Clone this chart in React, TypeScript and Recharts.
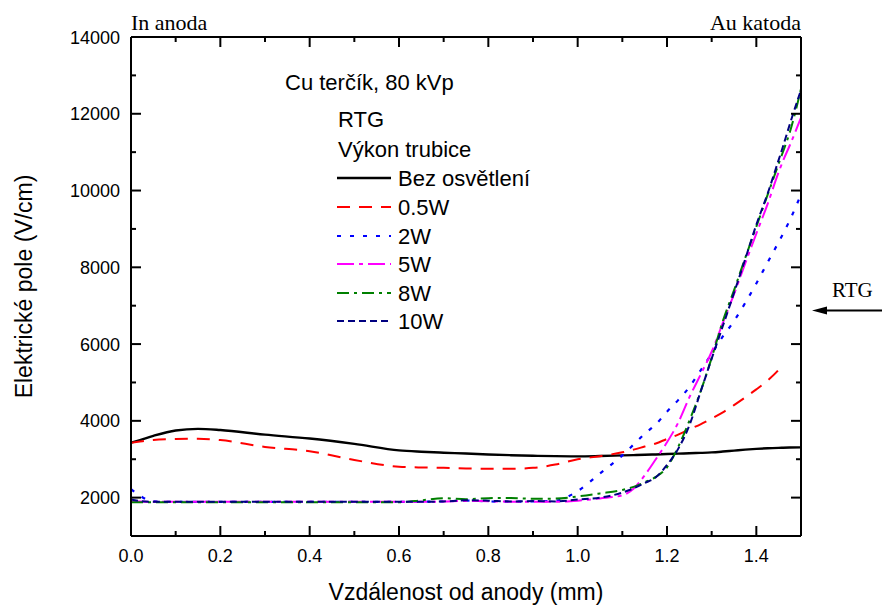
import React from "react";
import { LineChart, Line, XAxis, YAxis } from "recharts";

const xs = [
  0, 0.02, 0.05, 0.1, 0.15, 0.2, 0.3, 0.4, 0.5, 0.6, 0.65, 0.7, 0.75, 0.8, 0.85,
  0.9, 0.95, 1.0, 1.05, 1.1, 1.125, 1.15, 1.175, 1.2, 1.225, 1.25, 1.275, 1.3,
  1.325, 1.35, 1.375, 1.4, 1.425, 1.45, 1.46, 1.475, 1.5,
];

const bezOsvetleni = [
  3430, 3500, 3610, 3750, 3790, 3760, 3640, 3540, 3400, 3230, 3195, 3170, 3150,
  3125, 3105, 3090, 3080, 3075, 3085, 3100, 3108, 3115, 3125, 3135, 3145, 3155,
  3165, 3178, 3200, 3225, 3250, 3270, 3285, 3295, 3300, 3305, 3310,
];
const w05 = [
  3430, 3460, 3500, 3525, 3535, 3500, 3320, 3210, 2980, 2805, 2785, 2775, 2760,
  2750, 2752, 2775, 2860, 3000, 3080, 3180, 3250, 3330, 3410, 3530, 3640, 3780,
  3910, 4060, 4220, 4410, 4610, 4820, 5050, 5330, 5480, null, null,
];
const w2 = [
  2220, 2050, 1900, 1890, 1890, 1890, 1890, 1890, 1890, 1890, 1895, 1900, 1925,
  1900, 1895, 1900, 1920, 2170, 2630, 3100, 3380, 3660, 3910, 4240, 4540, 4880,
  5310, 5750, 6200, 6600, 7070, 7580, 8120, 8660, 8880, 9230, 9900,
];
const w5 = [
  1920, 1900, 1890, 1890, 1890, 1890, 1890, 1890, 1890, 1890, 1890, 1900, 1915,
  1905, 1895, 1890, 1890, 1920, 1980, 2060, 2230, 2580, 3000, 3440, 3950, 4610,
  5200, 5800, 6550, 7300, 8100, 8880, 9640, 10480, 10780, 11180, 11900,
];
const w8 = [
  1880, 1880, 1880, 1880, 1880, 1880, 1880, 1880, 1880, 1880, 1930, 1985, 1960,
  1985, 1990, 1970, 1975, 2030, 2110, 2200, 2280, 2400, 2540, 2790, 3320, 4000,
  4760, 5640, 6600, 7400, 8240, 9060, 9880, 10700, 11020, 11520, 12650,
];
const w10 = [
  1950, 1910, 1890, 1890, 1890, 1890, 1890, 1890, 1890, 1890, 1890, 1900, 1930,
  1920, 1900, 1910, 1900, 1950, 2000, 2130, 2240, 2380, 2530, 2850, 3270, 3880,
  4750, 5620, 6470, 7330, 8210, 9110, 9910, 10800, 11160, 11730, 12620,
];

const xTicks = [0, 0.1, 0.2, 0.3, 0.4, 0.5, 0.6, 0.7, 0.8, 0.9, 1.0, 1.1, 1.2, 1.3, 1.4, 1.5];
const yTicks = [1000, 2000, 3000, 4000, 5000, 6000, 7000, 8000, 9000, 10000, 11000, 12000, 13000, 14000];

const series = [
  { key: "bez", name: "Bez osvětlení", values: bezOsvetleni, color: "#000000", dash: undefined, width: 2.4 },
  { key: "w05", name: "0.5W", values: w05, color: "#ff0000", dash: "13 9", width: 2 },
  { key: "w2", name: "2W", values: w2, color: "#0000ff", dash: "4 9", width: 2.2 },
  { key: "w5", name: "5W", values: w5, color: "#ff00ff", dash: "17 5 4 5", width: 2 },
  { key: "w8", name: "8W", values: w8, color: "#008000", dash: "12 5 3 5", width: 2 },
  { key: "w10", name: "10W", values: w10, color: "#000080", dash: "7 4", width: 2 },
];

const data = xs.map((x, i) => {
  const row: any = { x };
  series.forEach((s) => (row[s.key] = s.values[i]));
  return row;
});

const SANS = "'Liberation Sans', Arial, sans-serif";
const SERIF = "'Liberation Serif', 'Times New Roman', serif";

const isMajorX = (v: number) => Math.round(v * 10) % 2 === 0;
const isMajorY = (v: number) => v % 2000 === 0;

const BottomTick = ({ x, y, payload }: any) => {
  const major = isMajorX(payload.value);
  return (
    <g>
      <line x1={x} x2={x} y1={y} y2={y - (major ? 10 : 5)} stroke="#000" strokeWidth={2} />
      {major && (
        <text x={x} y={y + 26} textAnchor="middle" fontSize={18} fontFamily={SANS} fill="#000">
          {payload.value.toFixed(1)}
        </text>
      )}
    </g>
  );
};

const TopTick = ({ x, y, payload }: any) => {
  const major = isMajorX(payload.value);
  return <line x1={x} x2={x} y1={y} y2={y + (major ? 10 : 5)} stroke="#000" strokeWidth={2} />;
};

const LeftTick = ({ x, y, payload }: any) => {
  const major = isMajorY(payload.value);
  return (
    <g>
      <line x1={x} x2={x + (major ? 10 : 5)} y1={y} y2={y} stroke="#000" strokeWidth={2} />
      {major && (
        <text x={x - 11} y={y + 6.5} textAnchor="end" fontSize={18} fontFamily={SANS} fill="#000">
          {payload.value}
        </text>
      )}
    </g>
  );
};

const RightTick = ({ x, y, payload }: any) => {
  const major = isMajorY(payload.value);
  return <line x1={x} x2={x - (major ? 10 : 5)} y1={y} y2={y} stroke="#000" strokeWidth={2} />;
};

const legendBaselines = [186, 215, 244, 272, 301, 329];

export default function App() {
  return (
    <div style={{ position: "absolute", left: 0, top: 0, width: 882, height: 606, background: "#fff" }}>
      <LineChart width={882} height={606} data={data} margin={{ top: 0, right: 0, bottom: 0, left: 0 }}>
        <XAxis
          xAxisId="bottom"
          dataKey="x"
          type="number"
          domain={[0, 1.5]}
          ticks={xTicks}
          interval={0}
          height={70}
          tickSize={0}
          tickMargin={0}
          tickLine={false}
          axisLine={{ stroke: "#000", strokeWidth: 2 }}
          tick={<BottomTick />}
          allowDataOverflow
        />
        <XAxis
          xAxisId="top"
          orientation="top"
          dataKey="x"
          type="number"
          domain={[0, 1.5]}
          ticks={xTicks}
          interval={0}
          height={37}
          tickSize={0}
          tickMargin={0}
          tickLine={false}
          axisLine={{ stroke: "#000", strokeWidth: 2 }}
          tick={<TopTick />}
          allowDataOverflow
        />
        <YAxis
          yAxisId="left"
          type="number"
          domain={[1000, 14000]}
          ticks={yTicks}
          interval={0}
          width={131}
          tickSize={0}
          tickMargin={0}
          tickLine={false}
          axisLine={{ stroke: "#000", strokeWidth: 2 }}
          tick={<LeftTick />}
          allowDataOverflow
        />
        <YAxis
          yAxisId="right"
          orientation="right"
          type="number"
          domain={[1000, 14000]}
          ticks={yTicks}
          interval={0}
          width={81}
          tickSize={0}
          tickMargin={0}
          tickLine={false}
          axisLine={{ stroke: "#000", strokeWidth: 2 }}
          tick={<RightTick />}
          allowDataOverflow
        />
        {/* hidden series so the top/right frame axes get scales */}
        <Line
          xAxisId="top"
          yAxisId="right"
          dataKey="bez"
          stroke="none"
          dot={false}
          activeDot={false}
          isAnimationActive={false}
        />
        {series.map((s) => (
          <Line
            key={s.key}
            xAxisId="bottom"
            yAxisId="left"
            type="monotone"
            dataKey={s.key}
            stroke={s.color}
            strokeWidth={s.width}
            strokeDasharray={s.dash}
            dot={false}
            activeDot={false}
            isAnimationActive={false}
          />
        ))}
      </LineChart>

      <svg
        width={882}
        height={606}
        style={{ position: "absolute", left: 0, top: 0, pointerEvents: "none" }}
      >
        <text x={131} y={30} fontSize={22} fontFamily={SERIF} fill="#000">
          In anoda
        </text>
        <text x={801} y={30} fontSize={22} fontFamily={SERIF} fill="#000" textAnchor="end">
          Au katoda
        </text>
        <text x={832} y={297} fontSize={21} fontFamily={SERIF} fill="#000">
          RTG
        </text>
        <line x1={882} x2={822} y1={310.5} y2={310.5} stroke="#000" strokeWidth={2} />
        <path d="M812,310.5 L827,306.5 L827,314.5 Z" fill="#000" />

        <text
          transform="translate(31.5,286.5) rotate(-90)"
          textAnchor="middle"
          fontSize={23}
          fontFamily={SANS}
          fill="#000"
        >
          Elektrické pole (V/cm)
        </text>
        <text x={466} y={600} textAnchor="middle" fontSize={23} fontFamily={SANS} fill="#000">
          Vzdálenost od anody (mm)
        </text>

        <text x={285} y={90} fontSize={22} fontFamily={SANS} fill="#000">
          Cu terčík, 80 kVp
        </text>
        <text x={338} y={127} fontSize={22} fontFamily={SANS} fill="#000">
          RTG
        </text>
        <text x={338} y={157} fontSize={22} fontFamily={SANS} fill="#000">
          Výkon trubice
        </text>
        {series.map((s, i) => (
          <g key={s.key}>
            <line
              x1={337}
              x2={391}
              y1={legendBaselines[i] - 8}
              y2={legendBaselines[i] - 8}
              stroke={s.color}
              strokeWidth={s.width}
              strokeDasharray={s.dash}
            />
            <text x={398} y={legendBaselines[i]} fontSize={22} fontFamily={SANS} fill="#000">
              {s.name}
            </text>
          </g>
        ))}
      </svg>
    </div>
  );
}
